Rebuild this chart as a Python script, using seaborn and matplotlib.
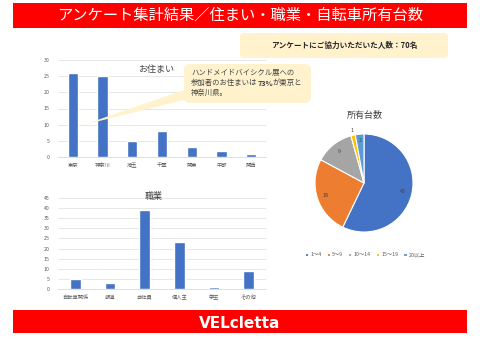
import numpy as np
import pandas as pd
import seaborn as sns
import matplotlib.pyplot as plt
from matplotlib.patches import FancyBboxPatch, Polygon, Rectangle

# data
home_labels = ["東京", "神奈川", "埼玉", "千葉", "関東", "中部", "関西"]
home_counts = [26, 25, 5, 8, 3, 2, 1]
job_labels = ["自転車関係", "報道", "会社員", "個人主", "学生", "その他"]
job_counts = [5, 3, 39, 23, 1, 9]
bike_labels = ["1～4", "5～9", "10～14", "15～19", "20以上"]
bike_counts = [40, 18, 9, 1, 2]

sns.set_style("white")
plt.rcParams['font.family'] = ['Noto Sans CJK JP', 'DejaVu Sans']

W, H = 480, 339
fig = plt.figure(figsize=(4.8, 3.39), dpi=100)


def box(x0, y0, x1, y1):
    # pixel box (top-left origin) -> figure fraction rect
    return [x0 / W, 1 - y1 / H, (x1 - x0) / W, (y1 - y0) / H]


def fx(x, y):
    return (x / W, 1 - y / H)


RED = "#FF0000"
BLUE = "#4472C4"
CREAM = "#FFF2CC"
GRID = "#E3E3E3"
TXT = "#595959"

# header / footer bars
fig.patches.append(Rectangle(fx(13, 28), 454 / W, 25 / H, transform=fig.transFigure,
                             facecolor=RED, edgecolor="none"))
fig.text(240 / W, 1 - 15.5 / H, "アンケート集計結果／住まい・職業・自転車所有台数",
         color="white", fontsize=11, ha="center", va="center")
fig.patches.append(Rectangle(fx(13, 333), 454 / W, 23 / H, transform=fig.transFigure,
                             facecolor=RED, edgecolor="none"))
fig.text(240 / W, 1 - 323 / H, "VELcletta", color="white", fontsize=11,
         fontweight="bold", family=["Liberation Sans Narrow", "DejaVu Sans"],
         ha="center", va="center")

# participants box
fig.patches.append(FancyBboxPatch(fx(240, 58), 208 / W, 25 / H, transform=fig.transFigure,
                                  boxstyle="round,pad=0,rounding_size=0.01",
                                  facecolor=CREAM, edgecolor="none"))
fig.text(344 / W, 1 - 45.5 / H, "アンケートにご協力いただいた人数：70名",
         fontsize=5.5, fontweight="bold", color="#262626", ha="center", va="center")


def style_bar(ax, ymax, step):
    ax.set_ylim(0, ymax)
    ax.set_yticks(np.arange(0, ymax + 1, step))
    ax.yaxis.grid(True, color=GRID, linewidth=0.6)
    ax.set_axisbelow(True)
    sns.despine(ax=ax, left=True, bottom=False)
    ax.spines["bottom"].set_color("#D9D9D9")
    ax.spines["bottom"].set_linewidth(0.6)
    ax.tick_params(axis="both", labelsize=3.8, colors=TXT, length=0)
    ax.tick_params(axis="x", pad=4)
    ax.tick_params(axis="y", pad=6)
    ax.set_xlabel("")
    ax.set_ylabel("")


# housing bars
ax1 = fig.add_axes(box(58, 60, 266, 157))
home_df = pd.DataFrame({"area": home_labels, "count": home_counts})
sns.barplot(data=home_df, x="area", y="count", color=BLUE, saturation=1,
            width=0.35, ax=ax1)
style_bar(ax1, 30, 5)
ax1.text(0.47, 0.9, "お住まい", transform=ax1.transAxes, ha="center", va="center",
         fontsize=6.5, color="#404040")

# job bars
ax2 = fig.add_axes(box(58, 198, 266, 289))
job_df = pd.DataFrame({"job": job_labels, "count": job_counts})
sns.barplot(data=job_df, x="job", y="count", color=BLUE, saturation=1,
            width=0.3, ax=ax2)
style_bar(ax2, 45, 5)
ax2.text(0.46, 1.02, "職業", transform=ax2.transAxes, ha="center", va="center",
         fontsize=6.5, color="#404040")

# speech bubble
fig.patches.append(Polygon([fx(190, 88), fx(83, 125), fx(196, 97)], closed=True,
                           transform=fig.transFigure, facecolor=CREAM,
                           edgecolor="none", zorder=5))
fig.patches.append(FancyBboxPatch(fx(184, 103), 127 / W, 39 / H, transform=fig.transFigure,
                                  boxstyle="round,pad=0,rounding_size=0.015",
                                  facecolor=CREAM, edgecolor="none", zorder=5))
bub = dict(fontsize=5.3, color="#404040", ha="left", va="center", zorder=6)
fig.text(191 / W, 1 - 73 / H, "ハンドメイドバイシクル展への", **bub)
fig.text(191 / W, 1 - 93 / H, "神奈川県。", **bub)
renderer = fig.canvas.get_renderer()
x = 191 / W
for part, wt in [("参加者のお住まいは", "normal"), ("73%", "bold"), ("が東京と", "normal")]:
    t = fig.text(x, 1 - 83 / H, part, fontweight=wt, **bub)
    x += t.get_window_extent(renderer).width / fig.bbox.width

# pie
pie_colors = ["#4472C4", "#ED7D31", "#A5A5A5", "#FFC000", "#5B9BD5"]
ax3 = fig.add_axes(box(315, 134, 413, 232))
wedges, _ = ax3.pie(bike_counts, colors=pie_colors, startangle=90, counterclock=False,
                    radius=1, wedgeprops=dict(edgecolor="white", linewidth=0.8))
for v, w in zip(bike_counts, wedges):
    ang = np.deg2rad((w.theta1 + w.theta2) / 2)
    if v == 1:
        r = 1.1
    elif v == 2:
        r = 0.88
    else:
        r = 0.82
    ax3.text(r * np.cos(ang), r * np.sin(ang), str(v), fontsize=3.8,
             color="#404040", ha="center", va="center", clip_on=False)
ax3.set_xlim(-1, 1)
ax3.set_ylim(-1, 1)
ax3.set_aspect("equal")
fig.text(365 / W, 1 - 115 / H, "所有台数", fontsize=6.5, color="#404040",
         ha="center", va="center")
leg = fig.legend(wedges, bike_labels, loc="center", bbox_to_anchor=(365 / W, 1 - 255 / H),
                 ncol=5, frameon=False, fontsize=3.8, handlelength=0.6,
                 handleheight=0.6, columnspacing=1.0, handletextpad=0.4)
for t in leg.get_texts():
    t.set_color(TXT)

fig.savefig("out.png", dpi=100)
